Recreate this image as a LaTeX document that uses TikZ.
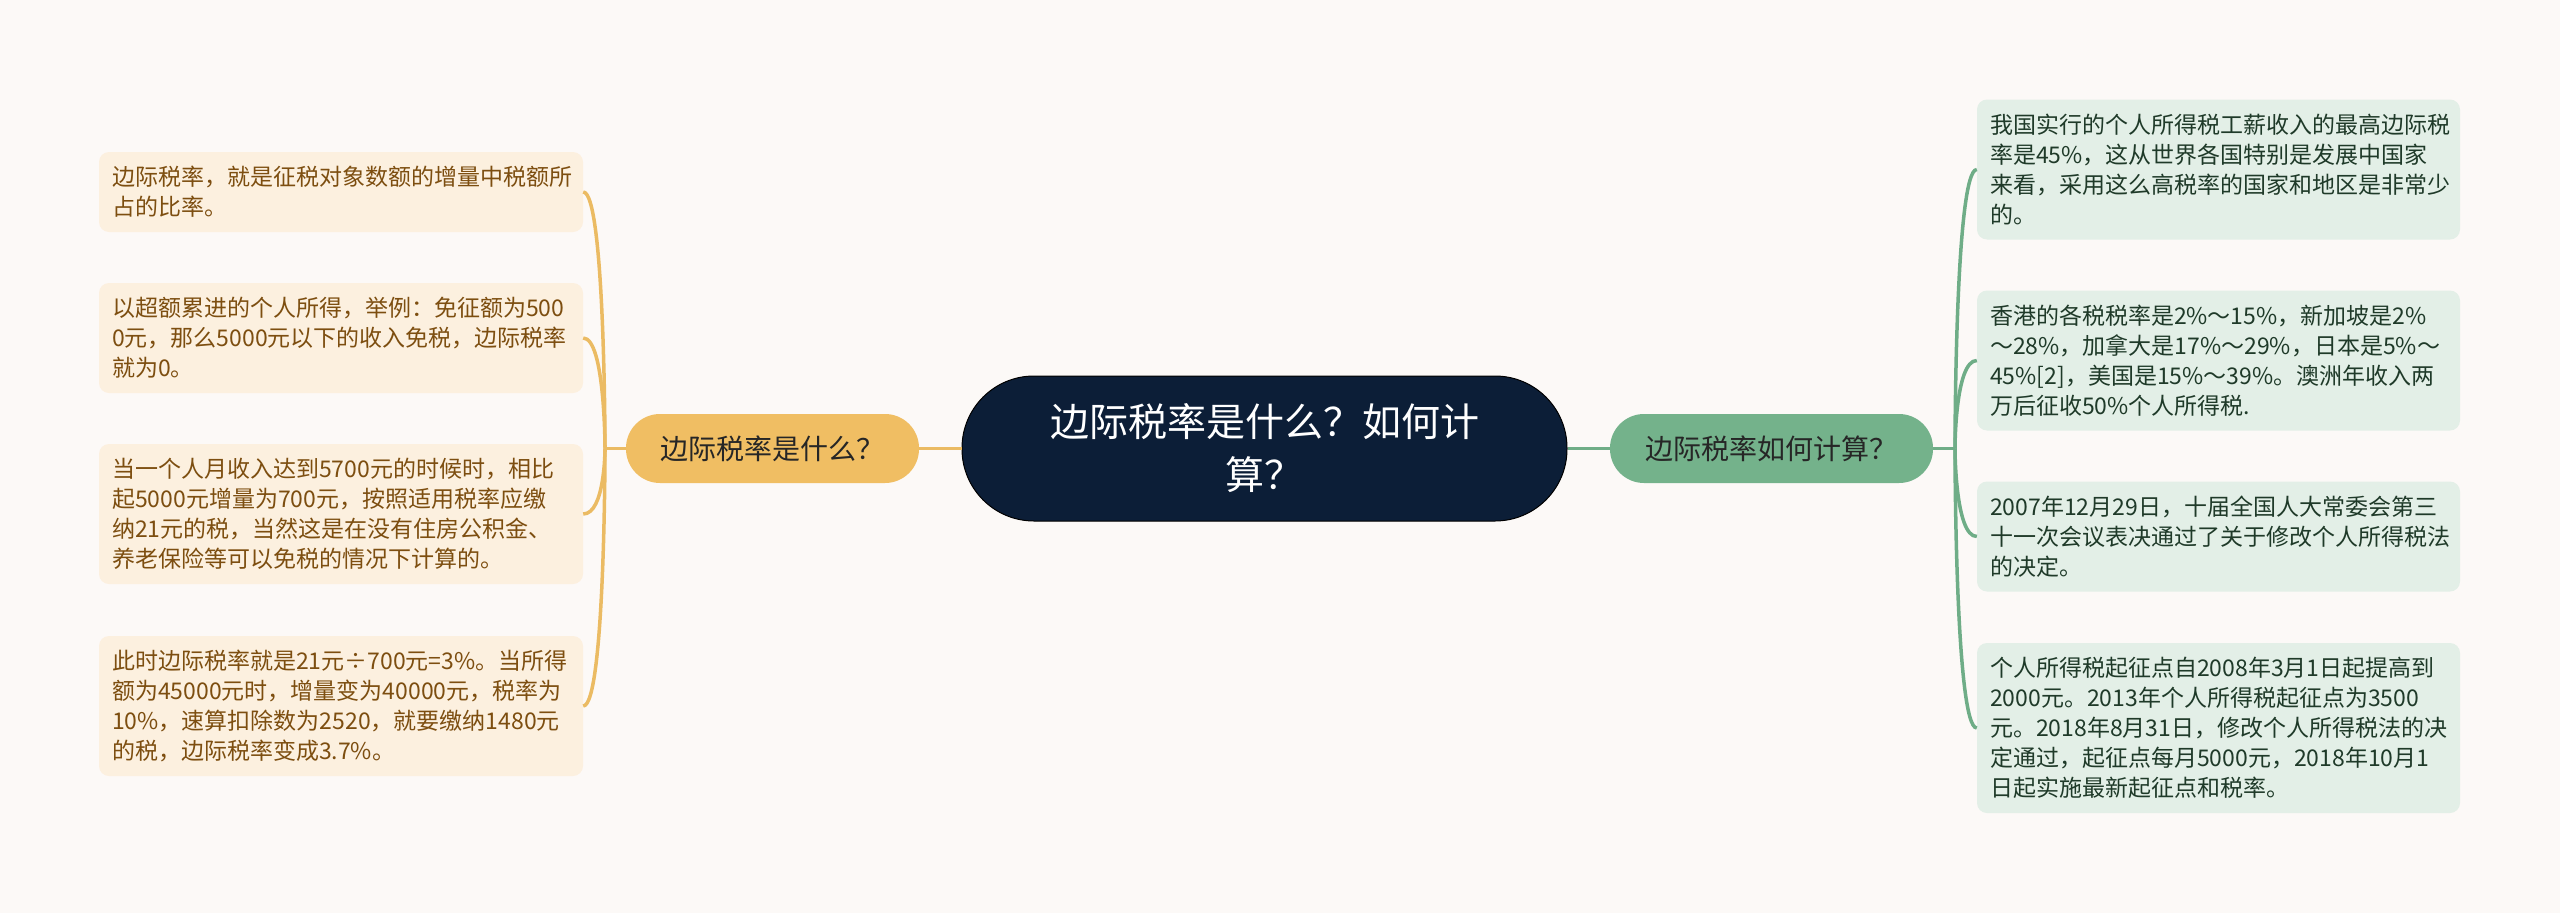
\documentclass[tikz,border=0pt]{standalone}
\usepackage{fontspec}
\setmainfont{Noto Sans CJK SC}
\definecolor{bgc}{HTML}{FCF9F7}
\definecolor{leafLfill}{HTML}{FCF0DF}
\definecolor{leafLtext}{HTML}{7D4E10}
\definecolor{leafRfill}{HTML}{E3EFE7}
\definecolor{leafRtext}{HTML}{1F3A29}
\definecolor{ylnode}{HTML}{F0BE63}
\definecolor{ylline}{HTML}{EBBB63}
\definecolor{grnode}{HTML}{74B28B}
\definecolor{grline}{HTML}{6FAD87}
\definecolor{navy}{HTML}{0C1E37}
\tikzset{
  leafL/.style={rectangle, rounded corners=10pt, fill=leafLfill, text=leafLtext,
    align=left, inner xsep=13pt, inner ysep=0pt, text width=458pt, minimum width=484pt,
    font=\fontsize{23}{30}\selectfont},
  leafR/.style={rectangle, rounded corners=10pt, fill=leafRfill, text=leafRtext,
    align=left, inner xsep=13pt, inner ysep=0pt, text width=457pt, minimum width=483pt,
    font=\fontsize{23}{30}\selectfont},
  branchY/.style={rectangle, rounded corners=34pt, fill=ylnode, text=black!85,
    minimum width=293pt, minimum height=69pt, inner sep=0pt, font=\fontsize{28}{34}\selectfont},
  branchG/.style={rectangle, rounded corners=34pt, fill=grnode, text=black!85,
    minimum width=323pt, minimum height=69pt, inner sep=0pt, font=\fontsize{28}{34}\selectfont},
  rootbox/.style={rectangle, rounded corners=72pt, fill=navy, draw=black, line width=1pt, text=white,
    minimum width=605pt, minimum height=145pt, inner sep=0pt, align=center, text width=560pt,
    font=\fontsize{39}{53}\selectfont},
  ylink/.style={draw=ylline, line width=3.5pt},
  glink/.style={draw=grline, line width=3.5pt},
}
\begin{document}
\begin{tikzpicture}[x=1pt,y=-1pt]
\useasboundingbox (0,0) rectangle (2560,913);
\fill[bgc] (0,0) rectangle (2560,913);

% root and branches
\node[rootbox] (root) at (1264.5,448.5) {边际税率是什么？如何计\\算？};
\node[branchY] (yb) at (772.5,448.5) {边际税率是什么？};
\node[branchG] (gb) at (1771.5,448.5) {边际税率如何计算？};

% left leaves
\node[leafL, minimum height=80pt] (l1) at (341,192) {边际税率，就是征税对象数额的增量中税额所\\占的比率。};
\node[leafL, minimum height=110pt] (l2) at (341,338) {以超额累进的个人所得，举例：免征额为500\\0元，那么5000元以下的收入免税，边际税率\\就为0。};
\node[leafL, minimum height=140pt] (l3) at (341,514) {当一个人月收入达到5700元的时候时，相比\\起5000元增量为700元，按照适用税率应缴\\纳21元的税，当然这是在没有住房公积金、\\养老保险等可以免税的情况下计算的。};
\node[leafL, minimum height=140pt] (l4) at (341,706) {此时边际税率就是21元÷700元=3\%。当所得\\额为45000元时，增量变为40000元，税率为\\10\%，速算扣除数为2520，就要缴纳1480元\\的税，边际税率变成3.7\%。};

% right leaves
\node[leafR, minimum height=140pt] (r1) at (2218.5,169.5) {我国实行的个人所得税工薪收入的最高边际税\\率是45\%，这从世界各国特别是发展中国家\\来看，采用这么高税率的国家和地区是非常少\\的。};
\node[leafR, minimum height=140pt] (r2) at (2218.5,360.5) {香港的各税税率是2\%～15\%，新加坡是2\%\\～28\%，加拿大是17\%～29\%，日本是5\%～\\45\%[2]，美国是15\%～39\%。澳洲年收入两\\万后征收50\%个人所得税.};
\node[leafR, minimum height=110pt] (r3) at (2218.5,536.5) {2007年12月29日，十届全国人大常委会第三\\十一次会议表决通过了关于修改个人所得税法\\的决定。};
\node[leafR, minimum height=170pt] (r4) at (2218.5,728) {个人所得税起征点自2008年3月1日起提高到\\2000元。2013年个人所得税起征点为3500\\元。2018年8月31日，修改个人所得税法的决\\定通过，起征点每月5000元，2018年10月1\\日起实施最新起征点和税率。};

% trunk points
\coordinate (tl) at (605,448.5);
\coordinate (tr) at (1955,448.5);

% connectors
\draw[ylink] (root.west) -- (yb.east);
\draw[glink] (root.east) -- (gb.west);
\draw[ylink] (yb.west) -- (tl);
\draw[glink] (gb.east) -- (tr);
\foreach \n in {l1,l2,l3,l4}{
  \draw[ylink] (\n.east) .. controls (\n.east -| tl) and (tl) .. (tl);
}
\foreach \n in {r1,r2,r3,r4}{
  \draw[glink] (tr) .. controls (tr) and (tr |- \n.west) .. (\n.west);
}
\end{tikzpicture}
\end{document}
